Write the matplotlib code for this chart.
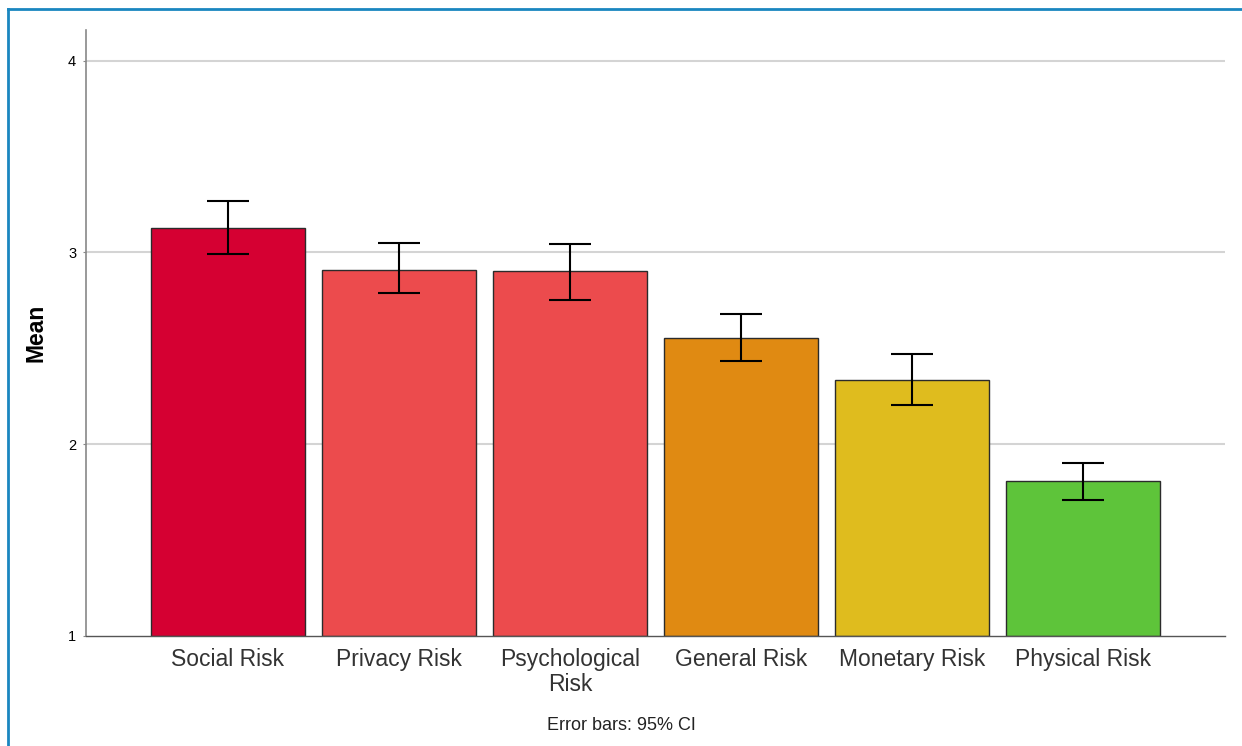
import matplotlib.pyplot as plt
from matplotlib.lines import Line2D
import numpy as np

# Mean risk ratings with 95% CI
categories = ['Social Risk', 'Privacy Risk', 'Psychological\nRisk',
              'General Risk', 'Monetary Risk', 'Physical Risk']
means = [3.125, 2.911, 2.901, 2.552, 2.333, 1.807]
ci_low = [2.990, 2.786, 2.750, 2.432, 2.203, 1.708]
ci_high = [3.270, 3.047, 3.042, 2.677, 2.469, 1.901]
colors = ['#D50032', '#EC4B4D', '#EC4B4D', '#E08A12', '#DFBC1E', '#5EC43A']

plt.rcParams['font.family'] = ['Liberation Sans', 'DejaVu Sans']

fig = plt.figure(figsize=(12.42, 7.46), dpi=100)
ax = fig.add_axes([0.0692, 0.1475, 0.9171, 0.8123])

x = np.arange(len(categories))
means = np.array(means)
yerr = [means - np.array(ci_low), np.array(ci_high) - means]

ax.bar(x, means - 1, bottom=1, width=0.9, color=colors,
       edgecolor='#2b2b2b', linewidth=1.0, zorder=2)
ax.errorbar(x, means, yerr=yerr, fmt='none', ecolor='black',
            elinewidth=1.5, capsize=15, capthick=1.5, zorder=3)

ax.set_xlim(-0.83, 5.83)
ax.set_ylim(1, 4.16)
ax.set_yticks([1, 2, 3, 4])
ax.set_yticklabels(['1', '2', '3', '4'], fontsize=10.5)
for yv in [2, 3, 4]:
    ax.axhline(yv, color='#d4d4d4', linewidth=1.5, zorder=1)

ax.set_xticks(x)
ax.set_xticklabels(categories, fontsize=16.5, color='#333333', linespacing=1.1)
ax.tick_params(axis='x', length=0, pad=9)
ax.tick_params(axis='y', length=2, color='#888888', pad=5)

for side in ['top', 'right']:
    ax.spines[side].set_visible(False)
ax.spines['left'].set_color('#888888')
ax.spines['bottom'].set_color('#555555')
ax.spines['left'].set_linewidth(1.2)
ax.spines['bottom'].set_linewidth(1.0)

ax.set_ylabel('Mean', fontsize=16.5, fontweight='bold', labelpad=15)

fig.text(0.5, 0.028, 'Error bars: 95% CI', ha='center', va='center',
         fontsize=13, color='#222222')

# blue frame on top and left edges
fig.add_artist(Line2D([0.0065, 1.0], [0.9885, 0.9885], transform=fig.transFigure,
                      color='#1a86c0', linewidth=2))
fig.add_artist(Line2D([0.0065, 0.0065], [0.0, 0.9885], transform=fig.transFigure,
                      color='#1a86c0', linewidth=2))

fig.savefig('out.png', dpi=100)
